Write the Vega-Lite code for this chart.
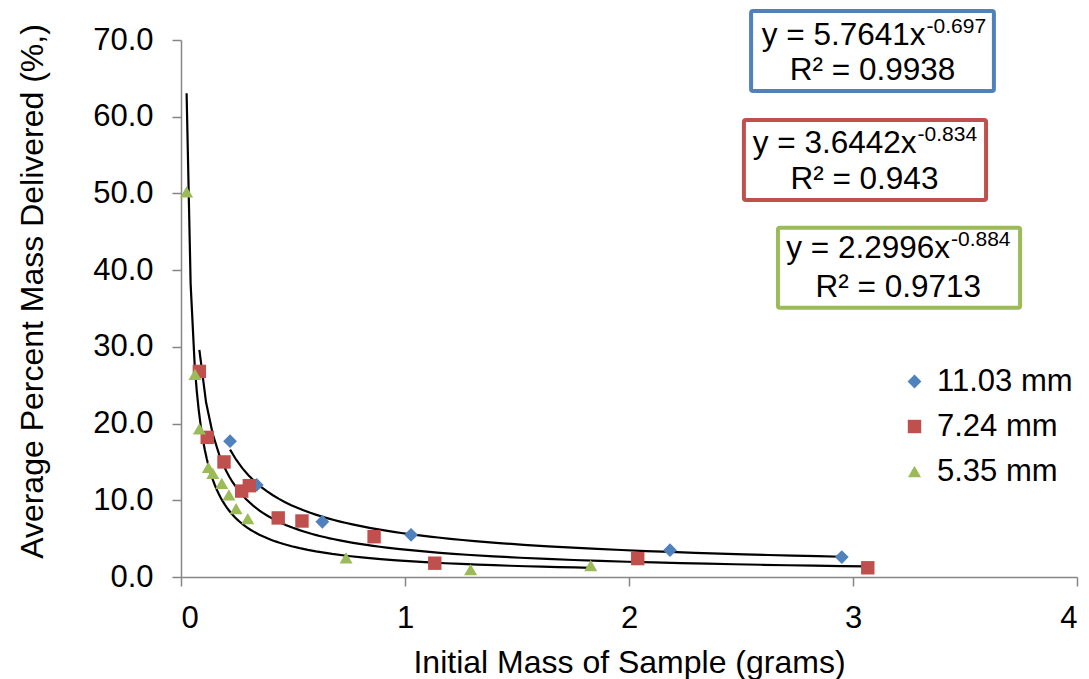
{
  "$schema": "https://vega.github.io/schema/vega-lite/v6.json",
  "width": 896,
  "height": 537,
  "autosize": "none",
  "padding": {"left": 181, "top": 40, "right": 12, "bottom": 102},
  "background": "white",
  "config": {
    "font": "Liberation Sans",
    "view": {"stroke": null},
    "axis": {
      "grid": false,
      "domainColor": "#868686",
      "domainWidth": 1.5,
      "tickColor": "#868686",
      "tickWidth": 1.5,
      "tickSize": 9,
      "labelColor": "#000000",
      "labelFont": "Liberation Sans",
      "labelFontSize": 31,
      "titleColor": "#000000",
      "titleFont": "Liberation Sans",
      "titleFontSize": 32,
      "titleFontWeight": "normal"
    },
    "legend": {
      "labelFont": "Liberation Sans",
      "labelFontSize": 31,
      "labelColor": "#000000"
    }
  },
  "data": {
    "values": [
      {"series": "11.03 mm", "mass": 0.219, "pct": 17.7},
      {"series": "11.03 mm", "mass": 0.338, "pct": 12.0},
      {"series": "11.03 mm", "mass": 0.631, "pct": 7.2},
      {"series": "11.03 mm", "mass": 1.027, "pct": 5.5},
      {"series": "11.03 mm", "mass": 2.183, "pct": 3.5},
      {"series": "11.03 mm", "mass": 2.95, "pct": 2.6},
      {"series": "7.24 mm", "mass": 0.082, "pct": 26.8},
      {"series": "7.24 mm", "mass": 0.117, "pct": 18.2},
      {"series": "7.24 mm", "mass": 0.192, "pct": 15.0},
      {"series": "7.24 mm", "mass": 0.271, "pct": 11.2},
      {"series": "7.24 mm", "mass": 0.305, "pct": 11.9},
      {"series": "7.24 mm", "mass": 0.434, "pct": 7.7},
      {"series": "7.24 mm", "mass": 0.54, "pct": 7.3},
      {"series": "7.24 mm", "mass": 0.862, "pct": 5.25},
      {"series": "7.24 mm", "mass": 1.133, "pct": 1.8},
      {"series": "7.24 mm", "mass": 2.039, "pct": 2.4},
      {"series": "7.24 mm", "mass": 3.066, "pct": 1.2},
      {"series": "5.35 mm", "mass": 0.025, "pct": 50.2},
      {"series": "5.35 mm", "mass": 0.0625, "pct": 26.4},
      {"series": "5.35 mm", "mass": 0.082, "pct": 19.3},
      {"series": "5.35 mm", "mass": 0.122, "pct": 14.3},
      {"series": "5.35 mm", "mass": 0.142, "pct": 13.5},
      {"series": "5.35 mm", "mass": 0.182, "pct": 12.2},
      {"series": "5.35 mm", "mass": 0.214, "pct": 10.7},
      {"series": "5.35 mm", "mass": 0.246, "pct": 8.9},
      {"series": "5.35 mm", "mass": 0.298, "pct": 7.6},
      {"series": "5.35 mm", "mass": 0.737, "pct": 2.5},
      {"series": "5.35 mm", "mass": 1.293, "pct": 0.95},
      {"series": "5.35 mm", "mass": 1.829, "pct": 1.5}
    ]
  },
  "layer": [
    {
      "transform": [
        {"regression": "pct", "on": "mass", "method": "pow", "groupby": ["series"]}
      ],
      "mark": {"type": "line", "color": "#000000", "strokeWidth": 2.2},
      "encoding": {
        "x": {"field": "mass", "type": "quantitative"},
        "y": {"field": "pct", "type": "quantitative"},
        "detail": {"field": "series"}
      }
    },
    {
      "mark": {"type": "point", "filled": true, "opacity": 1},
      "encoding": {
        "x": {
          "field": "mass",
          "type": "quantitative",
          "scale": {"domain": [0, 4], "nice": false, "zero": false},
          "axis": {
            "title": "Initial Mass of Sample (grams)",
            "values": [0, 1, 2, 3, 4],
            "format": "d",
            "labelPadding": 17,
            "titleBaseline": "alphabetic",
            "titleY": 95,
            "titleX": 448
          }
        },
        "y": {
          "field": "pct",
          "type": "quantitative",
          "scale": {"domain": [0, 70], "nice": false},
          "axis": {
            "title": "Average Percent Mass Delivered (%,)",
            "values": [0, 10, 20, 30, 40, 50, 60, 70],
            "format": ".1f",
            "labelPadding": 19,
            "titleBaseline": "alphabetic",
            "titleAngle": -90,
            "titleX": -139,
            "titleY": 251
          }
        },
        "color": {
          "field": "series",
          "type": "nominal",
          "scale": {"domain": ["11.03 mm", "7.24 mm", "5.35 mm"], "range": ["#4F81BD", "#C0504D", "#9BBB59"]},
          "legend": {
            "title": null,
            "orient": "none",
            "legendX": 718,
            "legendY": 326,
            "padding": 0,
            "symbolSize": 110,
            "symbolStrokeWidth": 0,
            "rowPadding": 13,
            "labelOffset": 7
          }
        },
        "shape": {
          "field": "series",
          "type": "nominal",
          "scale": {"domain": ["11.03 mm", "7.24 mm", "5.35 mm"], "range": ["diamond", "square", "triangle-up"]},
          "legend": {"title": null}
        },
        "size": {
          "field": "series",
          "type": "nominal",
          "scale": {"domain": ["11.03 mm", "7.24 mm", "5.35 mm"], "range": [190, 170, 200]},
          "legend": null
        }
      }
    },
    {
      "data": {"values": [{}]},
      "mark": {"type": "rect", "fill": "white", "stroke": "#4F81BD", "strokeWidth": 4, "cornerRadius": 2, "clip": false},
      "encoding": {
        "x": {"datum": 2.545, "type": "quantitative"},
        "x2": {"datum": 3.629},
        "y": {"datum": 73.78, "type": "quantitative"},
        "y2": {"datum": 63.35}
      }
    },
    {
      "data": {"values": [{}]},
      "mark": {"type": "rect", "fill": "white", "stroke": "#C0504D", "strokeWidth": 4, "cornerRadius": 2, "clip": false},
      "encoding": {
        "x": {"datum": 2.513, "type": "quantitative"},
        "x2": {"datum": 3.594},
        "y": {"datum": 59.57, "type": "quantitative"},
        "y2": {"datum": 49.15}
      }
    },
    {
      "data": {"values": [{}]},
      "mark": {"type": "rect", "fill": "white", "stroke": "#9BBB59", "strokeWidth": 4, "cornerRadius": 2, "clip": false},
      "encoding": {
        "x": {"datum": 2.665, "type": "quantitative"},
        "x2": {"datum": 3.746},
        "y": {"datum": 45.51, "type": "quantitative"},
        "y2": {"datum": 35.09}
      }
    },
    {
      "data": {"values": [{}]},
      "mark": {"type": "text", "text": "y = 5.7641x", "align": "right", "baseline": "alphabetic", "fontSize": 31.5, "font": "Liberation Sans", "color": "#000000"},
      "encoding": {"x": {"datum": 3.324, "type": "quantitative"}, "y": {"datum": 69.35, "type": "quantitative"}}
    },
    {
      "data": {"values": [{}]},
      "mark": {"type": "text", "text": "-0.697", "align": "left", "baseline": "alphabetic", "fontSize": 21, "dx": 1, "dy": -12, "font": "Liberation Sans", "color": "#000000"},
      "encoding": {"x": {"datum": 3.324, "type": "quantitative"}, "y": {"datum": 69.35, "type": "quantitative"}}
    },
    {
      "data": {"values": [{}]},
      "mark": {"type": "text", "text": "R² = 0.9938", "align": "center", "baseline": "alphabetic", "fontSize": 31.5, "font": "Liberation Sans", "color": "#000000"},
      "encoding": {"x": {"datum": 3.087, "type": "quantitative"}, "y": {"datum": 64.75, "type": "quantitative"}}
    },
    {
      "data": {"values": [{}]},
      "mark": {"type": "text", "text": "y = 3.6442x", "align": "right", "baseline": "alphabetic", "fontSize": 31.5, "font": "Liberation Sans", "color": "#000000"},
      "encoding": {"x": {"datum": 3.284, "type": "quantitative"}, "y": {"datum": 55.28, "type": "quantitative"}}
    },
    {
      "data": {"values": [{}]},
      "mark": {"type": "text", "text": "-0.834", "align": "left", "baseline": "alphabetic", "fontSize": 21, "dx": 1, "dy": -12, "font": "Liberation Sans", "color": "#000000"},
      "encoding": {"x": {"datum": 3.284, "type": "quantitative"}, "y": {"datum": 55.28, "type": "quantitative"}}
    },
    {
      "data": {"values": [{}]},
      "mark": {"type": "text", "text": "R² = 0.943", "align": "center", "baseline": "alphabetic", "fontSize": 31.5, "font": "Liberation Sans", "color": "#000000"},
      "encoding": {"x": {"datum": 3.051, "type": "quantitative"}, "y": {"datum": 50.59, "type": "quantitative"}}
    },
    {
      "data": {"values": [{}]},
      "mark": {"type": "text", "text": "y = 2.2996x", "align": "right", "baseline": "alphabetic", "fontSize": 31.5, "font": "Liberation Sans", "color": "#000000"},
      "encoding": {"x": {"datum": 3.433, "type": "quantitative"}, "y": {"datum": 41.6, "type": "quantitative"}}
    },
    {
      "data": {"values": [{}]},
      "mark": {"type": "text", "text": "-0.884", "align": "left", "baseline": "alphabetic", "fontSize": 21, "dx": 1, "dy": -12, "font": "Liberation Sans", "color": "#000000"},
      "encoding": {"x": {"datum": 3.433, "type": "quantitative"}, "y": {"datum": 41.6, "type": "quantitative"}}
    },
    {
      "data": {"values": [{}]},
      "mark": {"type": "text", "text": "R² = 0.9713", "align": "center", "baseline": "alphabetic", "fontSize": 31.5, "font": "Liberation Sans", "color": "#000000"},
      "encoding": {"x": {"datum": 3.202, "type": "quantitative"}, "y": {"datum": 36.52, "type": "quantitative"}}
    }
  ]
}
